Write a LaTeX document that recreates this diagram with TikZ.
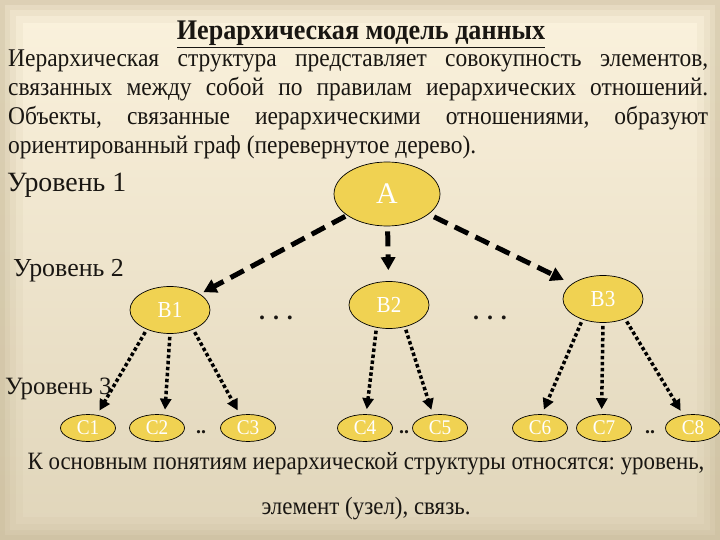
\documentclass[tikz,border=0pt]{standalone}
\usepackage{fontspec}
\setmainfont{Liberation Serif}
\newfontfamily\narrowserif[FakeStretch=0.92]{Liberation Serif}
\usepackage{xcolor}
\usetikzlibrary{arrows.meta, shapes.geometric}

\definecolor{bgcream}{RGB}{251,242,221}
\definecolor{bgedge}{RGB}{196,182,148}
\definecolor{bgbottom}{RGB}{224,213,186}
\definecolor{nodeyellow}{RGB}{240,210,82}
\definecolor{inkgray}{RGB}{25,22,18}

\frenchspacing

\begin{document}
\begin{tikzpicture}[x=1bp, y=-1bp,
    lvltext/.style={anchor=base west, inner sep=0pt, text=inkgray},
    rootnode/.style={ellipse, draw=black, line width=0.7bp, fill=nodeyellow, text=white, inner sep=0pt,
        minimum width=106bp, minimum height=64bp, font=\fontsize{30}{30}\selectfont},
    midnode/.style={ellipse, draw=black, line width=0.7bp, fill=nodeyellow, text=white, inner sep=0pt,
        minimum width=80bp, minimum height=47bp, font=\narrowserif\fontsize{23}{23}\selectfont},
    leafnode/.style={ellipse, draw=black, line width=0.7bp, fill=nodeyellow, text=white, inner sep=0pt,
        minimum width=55bp, minimum height=27bp, font=\narrowserif\fontsize{21}{21}\selectfont},
    gapdots/.style={inner sep=0pt, text=inkgray, font=\bfseries\fontsize{24}{24}\selectfont},
    mainlink/.style={line width=5bp, dash pattern=on 15bp off 8bp, -{Triangle[width=14bp, length=13bp]}},
    sublink/.style={line width=3.5bp, dash pattern=on 3.5bp off 2.5bp, -{Triangle[width=11bp, length=11bp]},
        shorten >=5bp, shorten <=3bp}
]
    % Background
    \useasboundingbox (0,0) rectangle (720,540);
    \clip (0,0) rectangle (720,540);
    \shade[top color=bgcream, middle color=bgcream, bottom color=bgbottom] (0,0) rectangle (720,540);
    \foreach \w/\o in {46bp/0.10, 32bp/0.14, 20bp/0.18, 10bp/0.25} {
        \draw[bgedge, line width=\w, opacity=\o] (0,0) rectangle (720,540);
    }

    % Title and text
    \node[anchor=base, inner sep=0pt, text=inkgray, font=\narrowserif\bfseries\fontsize{28.5}{28.5}\selectfont] (title) at (361,40)
        {\underline{Иерархическая модель данных}};
    \node[anchor=base west, text width=700bp, align=justify, inner sep=0pt, text=inkgray,
        font=\narrowserif\fontsize{25.6}{29}\selectfont] (intro) at (8,67)
        {Иерархическая структура представляет совокупность элементов,\linebreak
        связанных между собой по правилам иерархических отношений.\linebreak
        Объекты, связанные иерархическими отношениями, образуют\linebreak
        ориентированный граф (перевернутое дерево).};

    % Levels
    \node[lvltext, font=\fontsize{28}{28}\selectfont] (lvl1) at (7,192) {Уровень 1};
    \node[lvltext, font=\fontsize{26}{26}\selectfont] (lvl2) at (13,277) {Уровень 2};
    \node[lvltext, font=\fontsize{25}{25}\selectfont] (lvl3) at (5,394) {Уровень 3};

    % Tree nodes
    \node[rootnode] (A) at (387,194) {A};
    \node[midnode] (B1) at (170,310) {B1};
    \node[midnode] (B2) at (389,305) {B2};
    \node[midnode] (B3) at (603,299) {B3};
    \foreach \name/\x in {C1/88, C2/157, C3/248, C4/365, C5/440, C6/540, C7/604, C8/693} {
        \node[leafnode] (\name) at (\x,428) {\name};
    }
    \node[gapdots] (dotsa) at (276,318) {.\,\,.\,\,.};
    \node[gapdots] (dotsb) at (490,318) {.\,\,.\,\,.};
    \node[gapdots, font=\bfseries\fontsize{20}{20}\selectfont] (dotsc) at (201,432) {..};
    \node[gapdots, font=\bfseries\fontsize{20}{20}\selectfont] (dotsd) at (404,432) {..};
    \node[gapdots, font=\bfseries\fontsize{20}{20}\selectfont] (dotse) at (650,432) {..};

    % Links from A
    \draw[mainlink, shorten <=2bp, shorten >=4bp] (A) -- (B1);
    \draw[mainlink, shorten <=5bp, shorten >=11bp] (A) -- (B2);
    \draw[mainlink, shorten <=6bp, shorten >=9bp] (A) -- (B3);

    % Links to level 3
    \draw[sublink] (B1.220) -- (C1.56);
    \draw[sublink] (B1.south) -- (C2.60);
    \draw[sublink] (B1.320) -- (C3.121);
    \draw[sublink] (B2.241) -- (C4.85);
    \draw[sublink] (B2.306) -- (C5.118);
    \draw[sublink] (B3.225) -- (C6.82);
    \draw[sublink] (B3.south) -- (C7.100);
    \draw[sublink] (B3.318) -- (C8.127);

    % Summary
    \node[align=center, text=inkgray, font=\narrowserif\fontsize{25}{45}\selectfont] (summary) at (366,486)
        {К основным понятиям иерархической структуры относятся: уровень,\\элемент (узел), связь.};
\end{tikzpicture}
\end{document}
